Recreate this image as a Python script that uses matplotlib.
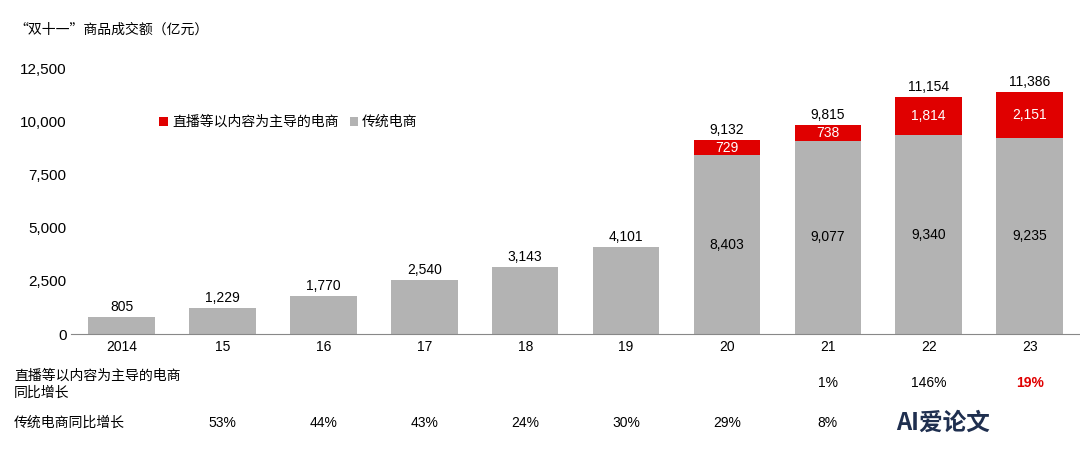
import matplotlib
matplotlib.use("Agg")
import matplotlib.pyplot as plt
plt.rcParams['font.family'] = ['Noto Sans CJK SC']

cats = ["2014", "15", "16", "17", "18", "19", "20", "21", "22", "23"]
trad = [805, 1229, 1770, 2540, 3143, 4101, 8403, 9077, 9340, 9235]
live = [0, 0, 0, 0, 0, 0, 729, 738, 1814, 2151]
totals = [805, 1229, 1770, 2540, 3143, 4101, 9132, 9815, 11154, 11386]
live_growth = ["", "", "", "", "", "", "", "1%", "146%", "19%"]
trad_growth = ["", "53%", "44%", "43%", "24%", "30%", "29%", "8%", "", ""]

gray = "#b3b3b3"; red = "#e00000"
fig = plt.figure(figsize=(10.8, 4.57), dpi=100)
ax = fig.add_axes([0.066, 0.269, 0.934, 0.582])
x = list(range(len(cats)))
ax.bar(x, trad, width=0.66, color=gray, label="传统电商")
ax.bar(x, live, width=0.66, bottom=trad, color=red, label="直播等以内容为主导的电商")
for i in x:
    if live[i] > 0:
        ax.text(i, trad[i] / 2, f"{trad[i]:,}", ha="center", va="center", fontsize=10, family="Liberation Sans")
        ax.text(i, trad[i] + live[i] / 2, f"{live[i]:,}", ha="center", va="center", fontsize=10, color="white", family="Liberation Sans")
    ax.text(i, totals[i] + 150, f"{totals[i]:,}", ha="center", va="bottom", fontsize=10, family="Liberation Sans")
ax.set_xlim(-0.5, 9.5)
ax.set_ylim(0, 12500)
ax.set_yticks([0, 2500, 5000, 7500, 10000, 12500])
ax.set_yticklabels([f"{v:,}" for v in [0, 2500, 5000, 7500, 10000, 12500]], fontsize=11, family="Liberation Sans")
ax.set_xticks(x)
ax.set_xticklabels(cats, fontsize=10, family="Liberation Sans")
for s in ["top", "right", "left"]:
    ax.spines[s].set_visible(False)
ax.spines["bottom"].set_color("#888888")
ax.tick_params(axis="y", length=0)
ax.tick_params(axis="x", length=0, pad=4)
h, l = ax.get_legend_handles_labels()
ax.legend(h[::-1], l[::-1], loc="upper left", bbox_to_anchor=(0.075, 0.87), ncol=2, frameon=False,
          fontsize=10, handlelength=0.6, handleheight=0.6, columnspacing=0.8, handletextpad=0.3)
fig.text(0.013, 0.935, "“双十一”商品成交额（亿元）", fontsize=10, va="center")
fig.text(0.013, 0.16, "直播等以内容为主导的电商\n同比增长", fontsize=10, va="center", linespacing=1.3)
fig.text(0.013, 0.075, "传统电商同比增长", fontsize=10, va="center")
for i in x:
    xf = 0.066 + 0.934 * (i + 0.5) / 10
    if live_growth[i]:
        c = red if i == 9 else "black"
        fig.text(xf, 0.162, live_growth[i], ha="center", va="center", fontsize=10, color=c,
                 fontweight="bold" if i == 9 else "normal", family="Liberation Sans")
    if trad_growth[i]:
        fig.text(xf, 0.075, trad_growth[i], ha="center", va="center", fontsize=10, family="Liberation Sans")
fig.text(0.83, 0.075, "AI爱论文", fontsize=17, fontweight="bold", color="#1f2f4f", va="center")
fig.savefig("out.png", dpi=100)
